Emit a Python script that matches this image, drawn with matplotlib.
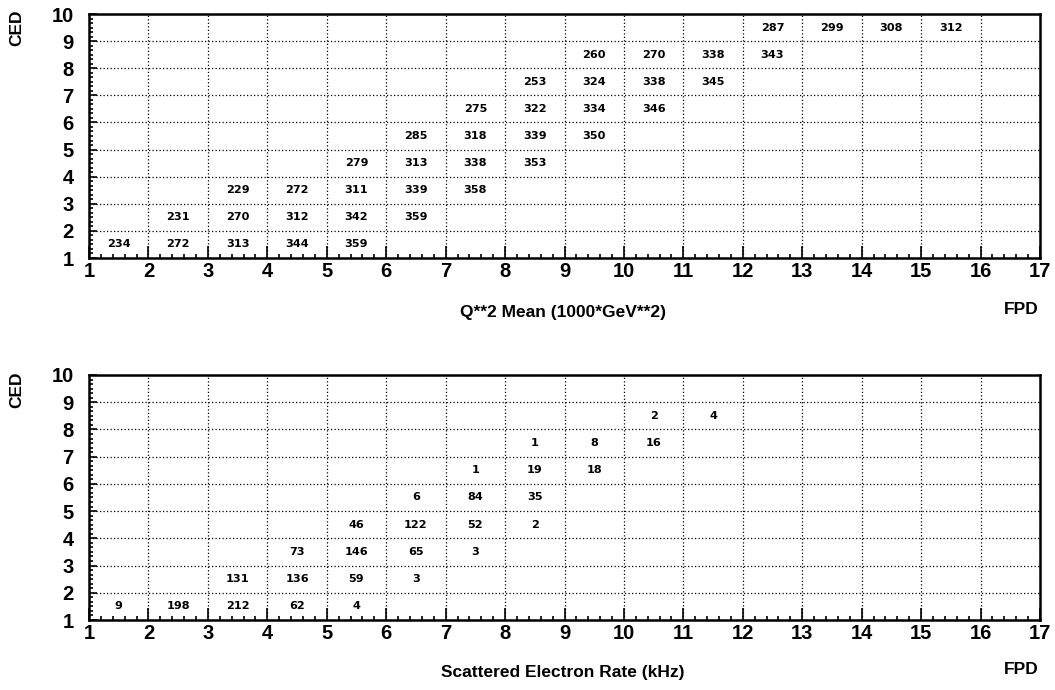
import matplotlib
matplotlib.use('Agg')
import matplotlib.pyplot as plt
from matplotlib.ticker import MultipleLocator, AutoMinorLocator

plt.rcParams['font.family'] = ['Liberation Sans', 'DejaVu Sans']

# Q**2 mean per cell (FPD, CED)
q2_fpd = [1, 2, 3, 4, 5,
          2, 3, 4, 5, 6,
          3, 4, 5, 6, 7,
          5, 6, 7, 8,
          6, 7, 8, 9,
          7, 8, 9, 10,
          8, 9, 10, 11,
          9, 10, 11, 12,
          12, 13, 14, 15]
q2_ced = [1] * 5 + [2] * 5 + [3] * 5 + [4] * 4 + [5] * 4 + [6] * 4 + [7] * 4 + [8] * 4 + [9] * 4
q2_val = [234, 272, 313, 344, 359,
          231, 270, 312, 342, 359,
          229, 272, 311, 339, 358,
          279, 313, 338, 353,
          285, 318, 339, 350,
          275, 322, 334, 346,
          253, 324, 338, 345,
          260, 270, 338, 343,
          287, 299, 308, 312]

# scattered electron rate per cell (FPD, CED)
rate_fpd = [1, 2, 3, 4, 5,
            3, 4, 5, 6,
            4, 5, 6, 7,
            5, 6, 7, 8,
            6, 7, 8,
            7, 8, 9,
            8, 9, 10,
            10, 11]
rate_ced = [1] * 5 + [2] * 4 + [3] * 4 + [4] * 4 + [5] * 3 + [6] * 3 + [7] * 3 + [8] * 2
rate_val = [9, 198, 212, 62, 4,
            131, 136, 59, 3,
            73, 146, 65, 3,
            46, 122, 52, 2,
            6, 84, 35,
            1, 19, 18,
            1, 8, 16,
            2, 4]

fig = plt.figure(figsize=(10.55, 6.9), dpi=100)
ax1 = fig.add_axes([89 / 1055, 1 - 258 / 690, (1040 - 89) / 1055, (258 - 14) / 690])
ax2 = fig.add_axes([89 / 1055, 1 - 620 / 690, (1040 - 89) / 1055, (620 - 375) / 690])


def draw_panel(ax, fpd, ced, vals, xlabel, ylab_y, xlab_y):
    ax.set_xlim(1, 17)
    ax.set_ylim(1, 10)
    ax.xaxis.set_major_locator(MultipleLocator(1))
    ax.yaxis.set_major_locator(MultipleLocator(1))
    ax.xaxis.set_minor_locator(AutoMinorLocator(5))
    ax.yaxis.set_minor_locator(AutoMinorLocator(6))
    ax.tick_params(which='both', direction='in', top=False, right=False,
                   width=1.2, labelsize=14.5)
    ax.tick_params(which='minor', length=3)
    ax.tick_params(axis='x', which='major', length=8.5, pad=3)
    ax.tick_params(axis='y', which='major', length=5.5, pad=11)
    for lab in ax.get_xticklabels() + ax.get_yticklabels():
        lab.set_fontweight('bold')
    for sp in ax.spines.values():
        sp.set_linewidth(1.8)
    ax.grid(True, which='major', color='black', linestyle=(0, (1, 1.8)), linewidth=0.9)
    for x, y, v in zip(fpd, ced, vals):
        ax.text(x + 0.5, y + 0.5, str(v), ha='center', va='center',
                fontsize=8.1, fontweight='bold', family=['DejaVu Sans'])
    fig.text(17 / 1055, ylab_y, 'CED', rotation=90, ha='center', va='top',
             fontsize=12.5, fontweight='bold')
    fig.text(1021 / 1055, xlab_y + 0.005, 'FPD', ha='center', va='center',
             fontsize=12.5, fontweight='bold')
    fig.text(563 / 1055, xlab_y, xlabel, ha='center', va='center',
             fontsize=12.5, fontweight='bold')


draw_panel(ax1, q2_fpd, q2_ced, q2_val, 'Q**2 Mean (1000*GeV**2)',
           1 - 10 / 690, 1 - 313 / 690)
draw_panel(ax2, rate_fpd, rate_ced, rate_val, 'Scattered Electron Rate (kHz)',
           1 - 371 / 690, 1 - 673 / 690)

fig.savefig('out.png', dpi=100)
